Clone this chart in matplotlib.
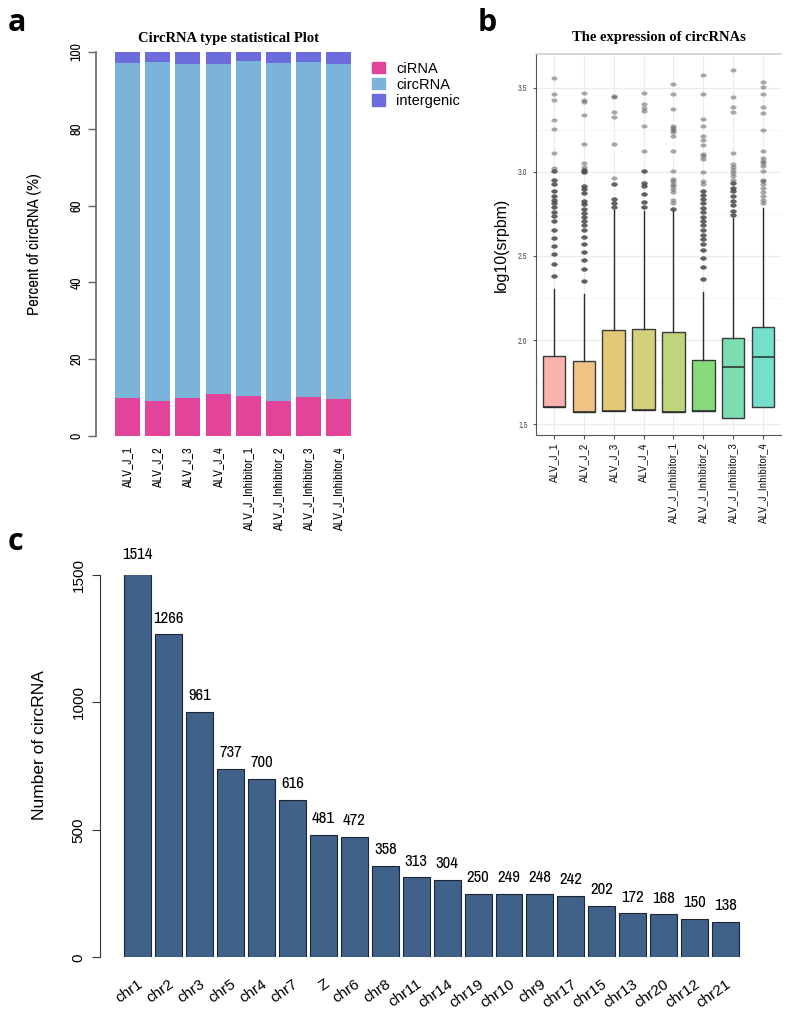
import numpy as np
import matplotlib.pyplot as plt
from matplotlib.markers import MarkerStyle
from matplotlib.transforms import Affine2D
from matplotlib.patches import Patch
from matplotlib import font_manager

# narrow font for the R-style labels if one is around
names = sorted(set(f.name for f in font_manager.fontManager.ttflist))
narrow = [n for n in names if 'Narrow' in n or 'Condensed' in n]
plt.rcParams['font.family'] = narrow[:1] + ['Liberation Sans', 'DejaVu Sans']

# ---- data ----
samples = ['ALV_J_1', 'ALV_J_2', 'ALV_J_3', 'ALV_J_4',
           'ALV_J_Inhibitor_1', 'ALV_J_Inhibitor_2', 'ALV_J_Inhibitor_3', 'ALV_J_Inhibitor_4']

# panel a (percent)
ciRNA_pct = [9.8, 9.1, 10.0, 10.9, 10.4, 9.1, 10.2, 9.7]
circRNA_pct = [87.3, 88.2, 86.8, 86.1, 87.2, 88.0, 87.1, 87.3]
intergenic_pct = [2.9, 2.7, 3.2, 3.0, 2.4, 2.9, 2.7, 3.0]

# panel b (log10 srpbm box stats)
box_q1 = [1.603, 1.571, 1.581, 1.585, 1.571, 1.581, 1.538, 1.601]
box_med = [1.603, 1.571, 1.581, 1.585, 1.571, 1.581, 1.839, 1.901]
box_q3 = [1.903, 1.873, 2.058, 2.063, 2.050, 1.881, 2.014, 2.077]
whisk_hi = [2.304, 2.272, 2.775, 2.765, 2.765, 2.285, 2.725, 2.785]

out_1 = [3.556, 3.464, 3.429, 3.306, 3.252, 3.111, 3.024, 3.002, 2.952, 2.929, 2.883, 2.859,
         2.835, 2.812, 2.788, 2.764, 2.740, 2.706, 2.655, 2.605, 2.560, 2.512, 2.450, 2.383]
out_2 = [3.470, 3.427, 3.415, 3.339, 3.167, 3.054, 3.028, 3.012, 2.998, 2.915, 2.899, 2.875,
         2.829, 2.806, 2.780, 2.756, 2.732, 2.710, 2.685, 2.657, 2.615, 2.571, 2.526, 2.478,
         2.423, 2.353]
out_3 = [3.450, 3.444, 3.357, 3.325, 3.167, 2.964, 2.929, 2.841, 2.817, 2.790]
out_4 = [3.470, 3.401, 3.377, 3.363, 3.272, 3.121, 3.004, 2.935, 2.915, 2.869, 2.819, 2.792]
out_5 = [3.524, 3.464, 3.371, 3.272, 3.262, 3.246, 3.236, 3.210, 3.121, 3.006, 2.958, 2.944,
         2.929, 2.915, 2.899, 2.879, 2.833, 2.812, 2.780]
out_6 = [3.577, 3.460, 3.312, 3.272, 3.212, 3.187, 3.157, 3.103, 3.093, 3.079, 3.000, 2.944,
         2.929, 2.885, 2.861, 2.839, 2.812, 2.786, 2.760, 2.732, 2.708, 2.681, 2.655, 2.627,
         2.601, 2.569, 2.538, 2.490, 2.433, 2.363]
out_7 = [3.603, 3.444, 3.387, 3.355, 3.109, 3.048, 3.028, 3.008, 2.990, 2.974, 2.954, 2.935,
         2.905, 2.885, 2.855, 2.825, 2.802, 2.770, 2.746]
out_8 = [3.534, 3.504, 3.464, 3.385, 3.347, 3.248, 3.123, 3.083, 3.067, 3.054, 3.034, 3.004,
         2.954, 2.944, 2.925, 2.905, 2.879, 2.855, 2.835, 2.812]
outliers = [out_1, out_2, out_3, out_4, out_5, out_6, out_7, out_8]
# values at or below this level are stacked several times (look darker)
dense_below = [3.01, 3.02, 2.95, 3.01, 2.80, 2.89, 2.95, 2.80]
dense_count = 3

box_colors = ['#F9B4AF', '#F0C283', '#E3C876', '#D3CF7A', '#BED57C', '#86DA7B', '#7CDDB3', '#74DFCB']

# panel c
chroms = ['chr1', 'chr2', 'chr3', 'chr5', 'chr4', 'chr7', 'Z', 'chr6', 'chr8', 'chr11', 'chr14',
          'chr19', 'chr10', 'chr9', 'chr17', 'chr15', 'chr13', 'chr20', 'chr12', 'chr21']
chrom_counts = [1514, 1266, 961, 737, 700, 616, 481, 472, 358, 313, 304,
                250, 249, 248, 242, 202, 172, 168, 150, 138]

W, H = 797, 1009
fig = plt.figure(figsize=(W / 100, H / 100), dpi=100)


def px_axes(x0, y0, x1, y1):
    return fig.add_axes([x0 / W, 1 - y1 / H, (x1 - x0) / W, (y1 - y0) / H])


# ================= panel a =================
axa = px_axes(96, 52, 360, 436)
x = np.arange(len(samples))
ci = np.array(ciRNA_pct)
cr = np.array(circRNA_pct)
ig = np.array(intergenic_pct)
bw = 0.83
axa.bar(x, ci, bw, color='#E2449A', linewidth=0)
axa.bar(x, cr, bw, bottom=ci, color='#7BB3D9', linewidth=0)
axa.bar(x, ig, bw, bottom=ci + cr, color='#6C6CDC', linewidth=0)
axa.set_xlim(-1.043, 7.70)
axa.set_ylim(0, 100)
for s in ['top', 'right', 'bottom']:
    axa.spines[s].set_visible(False)
axa.spines['left'].set_bounds(0, 100)
axa.spines['left'].set_color('#666666')
axa.spines['left'].set_linewidth(1.2)
axa.set_yticks([0, 20, 40, 60, 80, 100])
axa.tick_params(axis='y', length=6, width=1.0, color='#666666', labelsize=10, pad=3)
for lab in axa.get_yticklabels():
    lab.set_rotation(90)
    lab.set_va('center')
axa.set_xticks(x)
axa.set_xticklabels(samples, rotation=90, fontsize=8.8, va='top')
axa.tick_params(axis='x', length=0, pad=8)
axa.set_ylabel('Percent of circRNA (%)', fontsize=12, labelpad=20)
axa.set_title('CircRNA type statistical Plot', fontsize=10.5, fontweight='bold',
              family='Liberation Serif', pad=7)
handles = [Patch(color='#E2449A'), Patch(color='#7BB3D9'), Patch(color='#6C6CDC')]
axa.legend(handles, ['ciRNA', 'circRNA', 'intergenic'], loc='upper left',
           bbox_to_anchor=(1.0, 1.005), frameon=False, handlelength=0.9, handleheight=0.8,
           handletextpad=0.8, labelspacing=0.15, borderaxespad=0.4,
           prop={'family': 'Liberation Sans', 'size': 10.5})

# ================= panel b =================
axb = px_axes(536, 54, 781, 435)
stats = []
for i in range(len(samples)):
    stats.append(dict(q1=box_q1[i], med=box_med[i], q3=box_q3[i],
                      whislo=box_q1[i], whishi=whisk_hi[i], fliers=[]))
bp = axb.bxp(stats, positions=np.arange(1, 9), widths=0.75, patch_artist=True,
             showfliers=False, showcaps=False,
             boxprops=dict(edgecolor='#3A3A3A', linewidth=1.0),
             medianprops=dict(color='#2A2A2A', linewidth=1.1),
             whiskerprops=dict(color='#2A2A2A', linewidth=1.0), zorder=3)
for patch, c in zip(bp['boxes'], box_colors):
    patch.set_facecolor(c)

mk = MarkerStyle('o', transform=Affine2D().scale(1.5, 1.0))
for i, vals in enumerate(outliers):
    vals = np.array(vals)
    dense = vals[vals <= dense_below[i]]
    ys = np.concatenate([vals] + [dense] * (dense_count - 1))
    axb.plot(np.full(len(ys), i + 1), ys, linestyle='none', marker=mk, ms=3.0,
             color='#444444', alpha=0.45, markeredgewidth=0, zorder=4)

axb.set_xlim(0.4, 8.6)
axb.set_ylim(1.436, 3.70)
axb.set_yticks([1.5, 2.0, 2.5, 3.0, 3.5])
axb.set_yticks([1.75, 2.25, 2.75, 3.25], minor=True)
axb.grid(True, which='major', color='#EBEBEB', linewidth=0.8, zorder=0)
axb.grid(True, which='minor', axis='y', color='#F4F4F4', linewidth=0.6, zorder=0)
axb.set_axisbelow(True)
axb.spines['right'].set_visible(False)
axb.spines['top'].set_color('#D0D0D0')
axb.spines['top'].set_linewidth(1.2)
axb.spines['left'].set_color('#555555')
axb.spines['bottom'].set_color('#555555')
axb.tick_params(axis='y', which='major', labelsize=6, labelcolor='#555555', length=2.5,
                color='#555555')
axb.tick_params(axis='y', which='minor', length=0)
axb.set_xticks(np.arange(1, 9))
axb.set_xticklabels(samples, rotation=90, fontsize=8.5, color='#1A1A1A')
axb.tick_params(axis='x', length=3, color='#555555', pad=3)
axb.set_ylabel('log10(srpbm)', fontsize=11.5, family='Liberation Sans', labelpad=7)
axb.set_title('The expression of circRNAs', fontsize=10.5, fontweight='bold',
              family='Liberation Serif', pad=9)

# ================= panel c =================
axc = px_axes(99.5, 574.8, 775, 957.3)
xc = np.arange(len(chroms))
axc.bar(xc, chrom_counts, 0.87, color='#40618A', edgecolor='#1C2530', linewidth=0.8)
for xi, v in zip(xc, chrom_counts):
    axc.text(xi, v + 35, str(v), ha='center', va='bottom', fontsize=12, clip_on=False)
axc.set_xlim(-1.24, 20.6)
axc.set_ylim(0, 1500)
for s in ['top', 'right', 'bottom']:
    axc.spines[s].set_visible(False)
axc.spines['left'].set_bounds(0, 1500)
axc.spines['left'].set_color('#333333')
axc.set_yticks([0, 500, 1000, 1500])
axc.tick_params(axis='y', length=6, color='#333333', labelsize=11, pad=4)
for lab in axc.get_yticklabels():
    lab.set_rotation(90)
    lab.set_va('center')
    lab.set_family('Liberation Sans')
axc.set_xticks(xc)
axc.set_xticklabels(chroms, rotation=35, ha='right', rotation_mode='anchor',
                    fontsize=11, family='Liberation Sans')
axc.tick_params(axis='x', length=0, pad=14)
axc.set_ylabel('Number of circRNA', fontsize=12.5, family='Liberation Sans')
axc.yaxis.set_label_coords(-0.077, 0.555)

# panel letters
for letter, px, py in [('a', 8, 8), ('b', 478, 8), ('c', 8, 527)]:
    fig.text(px / W, 1 - py / H, letter, fontsize=22, fontweight='bold',
             family=['Open Sans', 'DejaVu Sans'], ha='left', va='top')

fig.savefig('out.png', dpi=100)
